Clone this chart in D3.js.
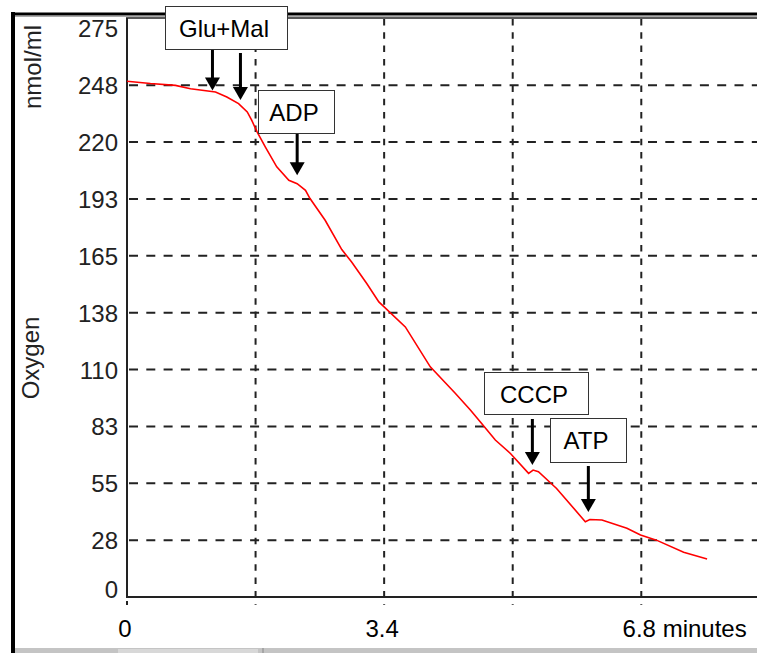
<!DOCTYPE html>
<html>
<head>
<meta charset="utf-8">
<script src="https://cdn.jsdelivr.net/npm/d3@7"></script>
<style>
  body { margin: 0; background: #fff; }
  svg { display: block; font-family: "Liberation Sans", Arial, sans-serif; }
</style>
</head>
<body>
<svg id="chart" width="757" height="653"></svg>
<script>
// oxygen trace (minutes, nmol/ml)
var time = [0, 0.31, 0.64, 0.84, 1.17, 1.32, 1.475, 1.59, 1.65, 1.72, 1.83, 1.98, 2.14, 2.25, 2.36, 2.42,
  2.62, 2.84, 2.97, 3.17, 3.33, 3.68, 4.01, 4.34, 4.54, 4.67, 4.87, 5.07, 5.31, 5.37, 5.44, 5.68,
  6.06, 6.12, 6.28, 6.61, 6.79, 7.0, 7.36, 7.67];
var oxygen = [249.4, 248.3, 247.4, 245.8, 244.2, 241.8, 238.6, 234.6, 230.5, 224.9, 217.6, 208, 201.5, 199.9, 196.7, 192.7,
  182.2, 168, 162, 151.6, 142.7, 130.6, 111.3, 98.5, 90.4, 84.7, 75.9, 69.4, 59.8, 61.4, 60.6, 52.5,
  36.4, 37.5, 37.2, 33.2, 30, 27.5, 21.6, 18.4];

// axis ticks
var yTicks = [0, 27.5, 55, 82.5, 110, 137.5, 165, 192.5, 220, 247.5, 275];
var yTickLabels = ["0", "28", "55", "83", "110", "138", "165", "193", "220", "248", "275"];
var xGrid = [1.7, 3.4, 5.1, 6.8];
var xTicks = [0, 3.4, 6.8];
var xTickLabels = ["0", "3.4", "6.8"];

// additions marked on the trace
var eventNames = ["Glu+Mal", "ADP", "CCCP", "ATP"];
var eventTimes = [[1.13, 1.5], [2.25], [5.36], [6.1]];
var eventTips = [[245, 240.3], [204], [63.8], [41.1]];

var svg = d3.select("#chart");
var x = d3.scaleLinear().domain([0, 8.33]).range([127, 757]);
var y = d3.scaleLinear().domain([0, 280]).range([597, 18]);

// outer window frame
svg.append("rect").attr("x", 0).attr("y", 0).attr("width", 757).attr("height", 653).attr("fill", "#fff");
svg.append("rect").attr("x", 15).attr("y", 648).attr("width", 742).attr("height", 5).attr("fill", "#c4c4c4");
svg.append("rect").attr("x", 118).attr("y", 649).attr("width", 140).attr("height", 4).attr("fill", "#d8d8d8");
svg.append("line").attr("x1", 263).attr("x2", 263).attr("y1", 648).attr("y2", 653).attr("stroke", "#888").attr("stroke-width", 1);
svg.append("rect").attr("x", 11).attr("y", 12).attr("width", 4).attr("height", 641).attr("fill", "#000");
svg.append("rect").attr("x", 11).attr("y", 12.5).attr("width", 746).attr("height", 3).attr("fill", "#000");
svg.append("line").attr("x1", 15).attr("x2", 757).attr("y1", 16.5).attr("y2", 16.5).attr("stroke", "#aaa").attr("stroke-width", 1);

// grid
svg.append("g").selectAll("line")
  .data(yTicks.filter(function(d) { return d > 0 && d < 275; }))
  .enter().append("line")
  .attr("x1", x(0) + 2).attr("x2", 757)
  .attr("y1", function(d) { return y(d); }).attr("y2", function(d) { return y(d); })
  .attr("stroke", "#222").attr("stroke-width", 2)
  .attr("stroke-dasharray", "9,8.3");

svg.append("g").selectAll("line")
  .data(xGrid)
  .enter().append("line")
  .attr("x1", function(d) { return x(d); }).attr("x2", function(d) { return x(d); })
  .attr("y1", y(280) + 1).attr("y2", 605)
  .attr("stroke", "#222").attr("stroke-width", 2)
  .attr("stroke-dasharray", "6.5,6.8");

// small tick under origin
svg.append("line").attr("x1", x(0)).attr("x2", x(0)).attr("y1", 601).attr("y2", 605)
  .attr("stroke", "#222").attr("stroke-width", 2);

// axes lines
svg.append("line").attr("x1", x(0)).attr("x2", x(0)).attr("y1", y(280)).attr("y2", y(0))
  .attr("stroke", "#222").attr("stroke-width", 2);
svg.append("line").attr("x1", x(0) - 1).attr("x2", 757).attr("y1", y(0)).attr("y2", y(0))
  .attr("stroke", "#222").attr("stroke-width", 2);
svg.append("line").attr("x1", x(0) - 1).attr("x2", 757).attr("y1", y(280)).attr("y2", y(280))
  .attr("stroke", "#222").attr("stroke-width", 1.5);

// y tick labels
svg.append("g").selectAll("text")
  .data(yTicks)
  .enter().append("text")
  .attr("x", x(0) - 9)
  .attr("y", function(d) { return d === 0 ? y(d) + 1 : y(d) + 9; })
  .attr("text-anchor", "end")
  .attr("font-size", 24)
  .attr("fill", "#222")
  .text(function(d, i) { return yTickLabels[i]; });

// x tick labels
var xl = svg.append("g").selectAll("text")
  .data(xTicks)
  .enter().append("text")
  .attr("x", function(d) { return x(d) - 2; })
  .attr("y", 637)
  .attr("text-anchor", "middle")
  .attr("font-size", 24)
  .attr("fill", "#000")
  .text(function(d, i) { return xTickLabels[i]; });

var lastW = xl.filter(function(d) { return d === 6.8; }).node().getComputedTextLength();
svg.append("text")
  .attr("x", x(6.8) - 2 + lastW / 2)
  .attr("y", 637)
  .attr("font-size", 24)
  .attr("fill", "#000")
  .text("\u00a0minutes");

// y axis titles
svg.append("text")
  .attr("transform", "translate(41,67) rotate(-90)")
  .attr("text-anchor", "middle")
  .attr("font-size", 24)
  .attr("fill", "#222")
  .text("nmol/ml");
svg.append("text")
  .attr("transform", "translate(39,358) rotate(-90)")
  .attr("text-anchor", "middle")
  .attr("font-size", 24)
  .attr("fill", "#222")
  .text("Oxygen");

// the trace
var line = d3.line()
  .x(function(d, i) { return x(time[i]); })
  .y(function(d) { return y(d); });
svg.append("path")
  .datum(oxygen)
  .attr("d", line)
  .attr("fill", "none")
  .attr("stroke", "#ff0000")
  .attr("stroke-width", 1.6);

// annotation boxes (pixel layout)
var boxes = [
  {x: 165, y: 6, w: 122, h: 43},
  {x: 258, y: 90, w: 76, h: 43},
  {x: 484, y: 372, w: 104, h: 42},
  {x: 550, y: 418, w: 76, h: 44}
];
var tailGap = [[0, 4], [0], [5], [4]];

eventNames.forEach(function(name, i) {
  var b = boxes[i];
  var g = svg.append("g");
  eventTimes[i].forEach(function(t, j) {
    var ax = x(t);
    var tip = y(eventTips[i][j]);
    g.append("line")
      .attr("x1", ax).attr("x2", ax)
      .attr("y1", b.y + b.h + tailGap[i][j]).attr("y2", tip - 11)
      .attr("stroke", "#000").attr("stroke-width", 3);
    g.append("path")
      .attr("d", "M" + (ax - 7.5) + "," + (tip - 13) + "L" + (ax + 7.5) + "," + (tip - 13) + "L" + ax + "," + tip + "Z")
      .attr("fill", "#000");
  });
  g.append("rect")
    .attr("x", b.x + 0.5).attr("y", b.y + 0.5)
    .attr("width", b.w).attr("height", b.h)
    .attr("fill", "#fff").attr("stroke", "#333").attr("stroke-width", 1);
  g.append("text")
    .attr("x", b.x + b.w / 2 - 2)
    .attr("y", b.y + 31)
    .attr("text-anchor", "middle")
    .attr("font-size", 24)
    .attr("fill", "#000")
    .text(name);
});
</script>
</body>
</html>
